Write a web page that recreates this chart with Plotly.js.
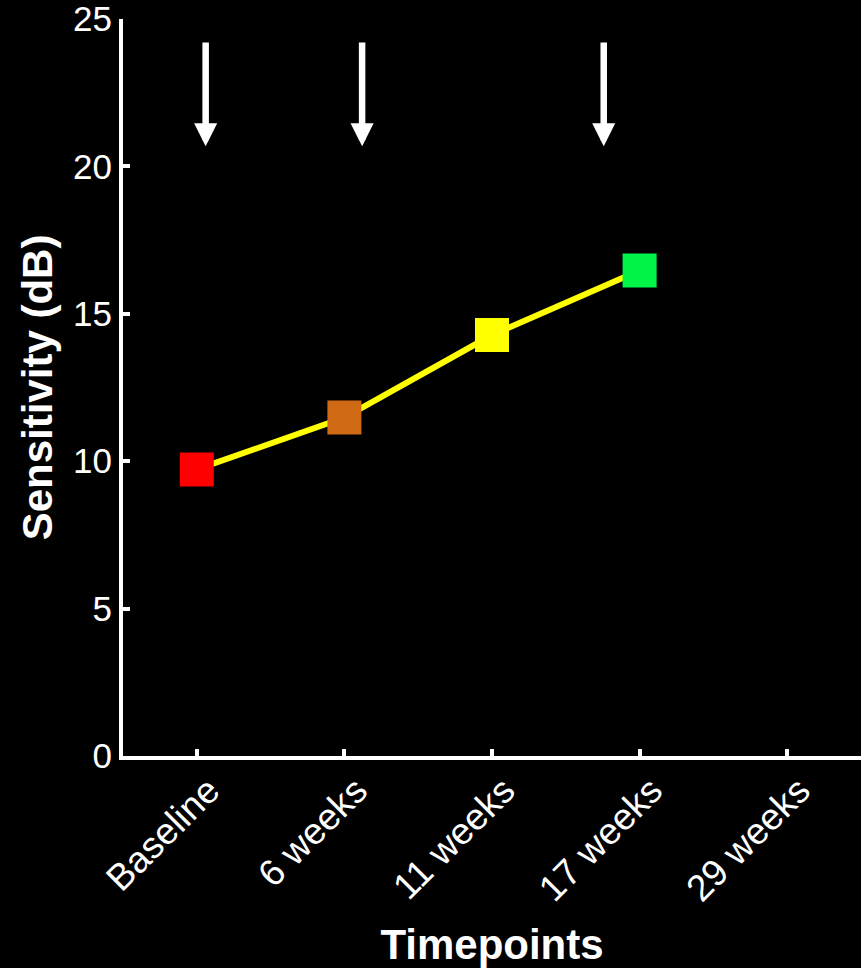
<!DOCTYPE html>
<html>
<head>
<meta charset="utf-8">
<script src="https://cdn.plot.ly/plotly-3.0.1.min.js"></script>
<style>
  html, body { margin: 0; padding: 0; background: #000; }
  #chart { width: 861px; height: 968px; }
</style>
</head>
<body>
<div id="chart"></div>
<script>
// ---- data ----
const timepoints = ["Baseline", "6 weeks", "11 weeks", "17 weeks", "29 weeks"];
const measuredTimepoints = ["Baseline", "6 weeks", "11 weeks", "17 weeks"];
const sensitivity = [9.72, 11.48, 14.28, 16.47];
const markerColors = ["#FF0000", "#D06914", "#FFFF00", "#00F548"];
const yTicks = [0, 5, 10, 15, 20, 25];
// arrow markers (category index positions) and their vertical span
const arrowX = [0.06, 1.12, 2.757];
const arrowTop = 24.25;
const arrowTip = 20.68;

const FONT = "Liberation Sans, Arial, Helvetica, sans-serif";

const trace = {
  x: measuredTimepoints,
  y: sensitivity,
  type: "scatter",
  mode: "lines+markers",
  line: { color: "#FFFF00", width: 6 },
  marker: { symbol: "square", size: 34, color: markerColors, line: { width: 0 } },
  showlegend: false,
  hoverinfo: "skip"
};

const annotations = arrowX.map(function (ax) {
  return {
    x: ax, y: arrowTip, xref: "x", yref: "y",
    ax: ax, ay: arrowTop, axref: "x", ayref: "y",
    text: "", showarrow: true,
    arrowhead: 2, arrowsize: 0.71, arrowwidth: 6.5, arrowcolor: "#FFFFFF",
    standoff: 0
  };
});

const layout = {
  width: 861,
  height: 968,
  paper_bgcolor: "#000000",
  plot_bgcolor: "#000000",
  margin: { l: 123, r: 0, t: 19, b: 212, pad: 0 },
  font: { family: FONT, color: "#FFFFFF" },
  xaxis: {
    type: "category",
    categoryorder: "array",
    categoryarray: timepoints,
    tickvals: timepoints,
    ticktext: timepoints,
    range: [-0.5, 4.5],
    showgrid: false,
    zeroline: false,
    showline: true,
    linecolor: "#FFFFFF",
    linewidth: 4,
    ticks: "inside",
    ticklen: 7,
    tickwidth: 4,
    tickcolor: "#FFFFFF",
    tickangle: -45,
    ticklabelshift: 12,
    ticklabelstandoff: -6,
    tickfont: { family: FONT, size: 37, color: "#FFFFFF" },
    title: { text: "<b>Timepoints</b>", font: { family: FONT, size: 42, color: "#FFFFFF" }, standoff: 22 }
  },
  yaxis: {
    range: [0, 25],
    tickvals: yTicks,
    ticktext: yTicks.map(String),
    showgrid: false,
    zeroline: false,
    showline: true,
    linecolor: "#FFFFFF",
    linewidth: 4,
    ticks: "inside",
    ticklen: 7,
    tickwidth: 4,
    tickcolor: "#FFFFFF",
    ticklabeloverflow: "allow",
    tickfont: { family: FONT, size: 35, color: "#FFFFFF" },
    title: { text: "<b>Sensitivity (dB)</b>", font: { family: FONT, size: 42, color: "#FFFFFF" }, standoff: 8 }
  },
  annotations: annotations
};

Plotly.newPlot("chart", [trace], layout, { displayModeBar: false, staticPlot: true });
</script>
</body>
</html>
